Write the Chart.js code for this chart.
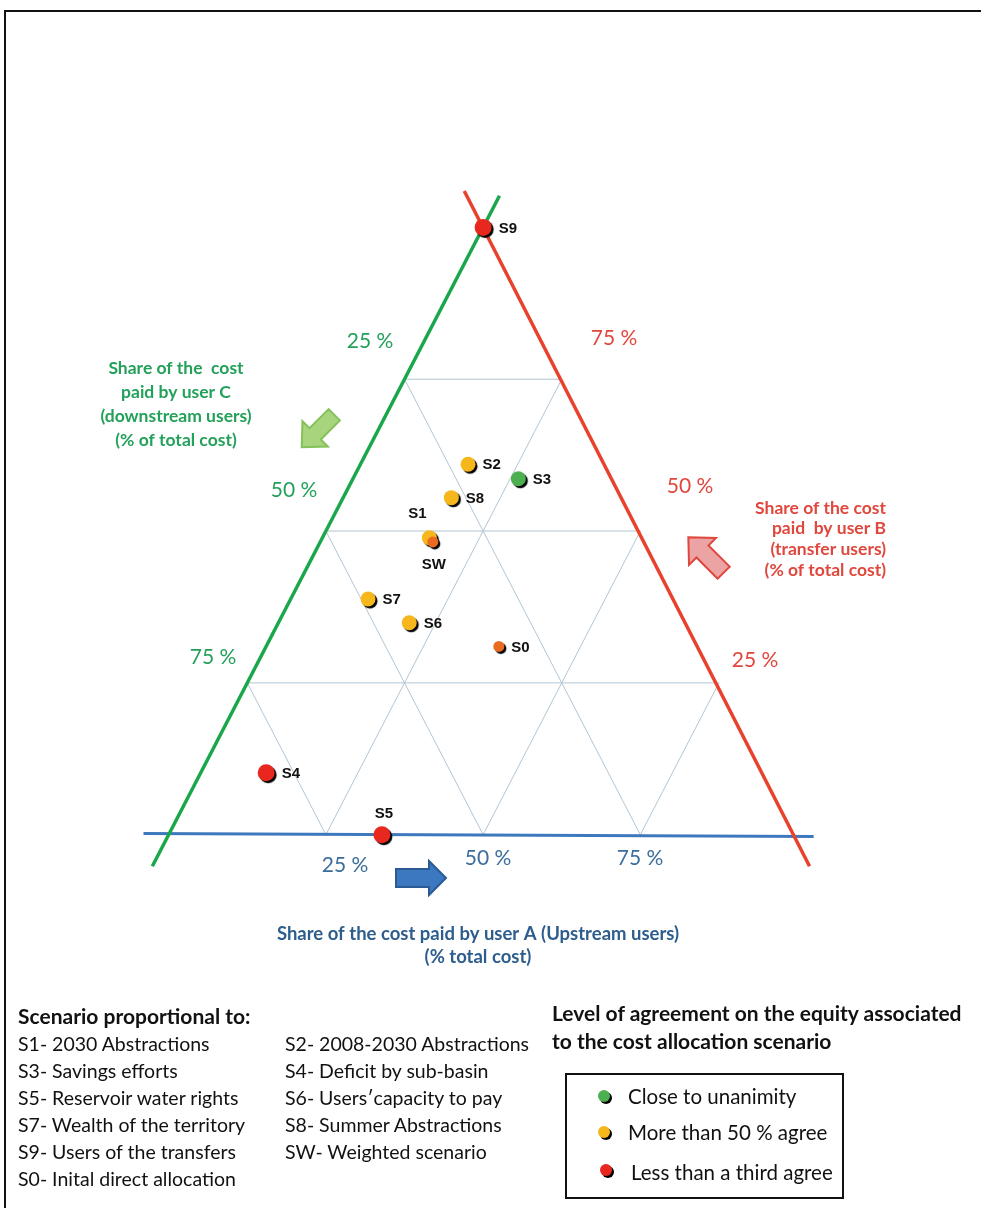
<!DOCTYPE html>
<html>
<head>
<meta charset="utf-8">
<script src="https://cdn.jsdelivr.net/npm/chart.js@4.4.0/dist/chart.umd.min.js"></script>
<style>
body{margin:0;background:#fff;}
#wrap{position:relative;width:981px;height:1208px;overflow:hidden;background:#fff;}
#frame{position:absolute;left:4px;top:10px;width:990px;height:1220px;border-top:2px solid #111;border-left:2px solid #111;}
canvas{position:absolute;left:0;top:0;}
.leg{position:absolute;font-family:Lato,"Open Sans",sans-serif;color:#111;font-size:19.5px;line-height:27px;white-space:nowrap;}
.leg b{font-weight:700;font-size:21px;}
#box{position:absolute;left:565px;top:1073px;width:275px;height:122px;border:2px solid #111;}
.item{position:absolute;font-family:Lato,sans-serif;font-size:20.5px;color:#111;white-space:nowrap;line-height:24px;}
.dot{position:absolute;width:12px;height:12px;border-radius:50%;box-shadow:2px 2px 0 #000;}
</style>
</head>
<body>
<div id="wrap">
  <div id="frame"></div>
  <canvas id="tern" width="981" height="1208"></canvas>

  <div class="leg" style="left:18px;top:1002px;">
    <b>Scenario proportional to:</b><br>
    S1- 2030 Abstractions<br>
    S3- Savings efforts<br>
    S5- Reservoir water rights<br>
    S7- Wealth of the territory<br>
    S9- Users of the transfers<br>
    S0- Inital direct allocation
  </div>
  <div class="leg" style="left:285px;top:1030px;">
    S2- 2008-2030 Abstractions<br>
    S4- Deficit by sub-basin<br>
    S6- Users&#697;capacity to pay<br>
    S8- Summer Abstractions<br>
    SW- Weighted scenario
  </div>
  <div class="leg" style="left:552px;top:999px;">
    <b>Level of agreement on the equity associated<br>to the cost allocation scenario</b>
  </div>
  <div id="box"></div>
  <span class="dot" style="left:598px;top:1090px;background:#4caf50;"></span>
  <span class="item" style="left:628px;top:1084px;">Close to unanimity</span>
  <span class="dot" style="left:598px;top:1126px;background:#f5b71c;"></span>
  <span class="item" style="left:628px;top:1120px;">More than 50 % agree</span>
  <span class="dot" style="left:600px;top:1164px;background:#e8281e;"></span>
  <span class="item" style="left:631px;top:1160px;">Less than a third agree</span>
</div>

<script>
// scenarios and their cost shares (% of total cost)
// A = upstream users, B = transfer users, C = downstream users (C = 100 - A - B)
var scenarios = ["S9", "S2", "S3", "S8", "S1", "SW", "S7", "S6", "S0", "S4", "S5"];
var shareA    = [0,    17.1, 26.3, 17.2, 17.0, 17.9, 12.3, 20.8, 37.0, 10.4, 33.9];
var shareB    = [100,  61.0, 58.6, 55.5, 48.9, 48.2, 38.8, 34.9, 31.0, 10.2, 0];
var agreement = ["low", "majority", "high", "majority", "majority", "none", "majority", "majority", "none", "low", "low"];
var labelSide = ["right", "right", "right", "right", "above", "below", "right", "right", "right", "right", "top"];

// grid steps of the triangle (%)
var gridSteps = [25, 50, 75];
var tickLabels = ["25 %", "50 %", "75 %"];

var agreeColor = {high: "#4caf50", majority: "#f5b71c", low: "#e8281e", none: "#ea6a1f"};
var agreeSize  = {high: 7.5, majority: 7.5, low: 8.5, none: 5.5};

// ternary -> plot coords (base from 0 to 1, apex at height 1)
var tern = function(a, b){
  return {x: a/100 + b/200, y: b/100};
};

var pts = scenarios.map(function(s, i){ return tern(shareA[i], shareB[i]); });

var lineSet = function(p1, p2, color, width){
  return {
    type: "scatter", data: [p1, p2], showLine: true,
    borderColor: color, borderWidth: width, pointRadius: 0, fill: false
  };
};

var datasets = [];
// points first so they sit on top
datasets.push({
  type: "scatter",
  data: pts,
  pointRadius: function(c){ return agreeSize[agreement[c.dataIndex]]; },
  pointBackgroundColor: function(c){ return agreeColor[agreement[c.dataIndex]]; },
  pointBorderWidth: 0,
  showLine: false
});
// outer axes, a bit longer than the triangle edges
datasets.push(lineSet(tern(0, 105.2), tern(0, -5.2), "#1aa64b", 3.5));        // A = 0 (green, user C side)
datasets.push(lineSet(tern(-6, 106), tern(104.5, -5.2), "#e8412c", 3.5));     // C = 0 (red, user B side)
datasets.push(lineSet(tern(-4.1, 0.2), tern(102.7, -0.3), "#3d78bd", 3));    // B = 0 (blue, user A side)
// inner grid
gridSteps.forEach(function(t){
  datasets.push(lineSet(tern(0, t), tern(100 - t, t), "#b2c5d4", 1));        // B const
  datasets.push(lineSet(tern(t, 0), tern(t, 100 - t), "#b2c5d4", 1));        // A const
  datasets.push(lineSet(tern(100 - t, 0), tern(0, 100 - t), "#b2c5d4", 1));  // C const
});

var blockArrow = function(ctx, cx, cy, ang, len, shaftW, headL, headW, fill, stroke){
  ctx.save();
  ctx.translate(cx, cy);
  ctx.rotate(ang);
  var h = len/2;
  ctx.beginPath();
  ctx.moveTo(-h, -shaftW/2);
  ctx.lineTo(h - headL, -shaftW/2);
  ctx.lineTo(h - headL, -headW/2);
  ctx.lineTo(h, 0);
  ctx.lineTo(h - headL, headW/2);
  ctx.lineTo(h - headL, shaftW/2);
  ctx.lineTo(-h, shaftW/2);
  ctx.closePath();
  ctx.fillStyle = fill;
  ctx.fill();
  ctx.lineWidth = 2;
  ctx.strokeStyle = stroke;
  ctx.stroke();
  ctx.restore();
};

var textLines = function(ctx, lines, x, y, step, align, font, color){
  ctx.save();
  ctx.font = font;
  ctx.fillStyle = color;
  ctx.textAlign = align;
  ctx.textBaseline = "middle";
  lines.forEach(function(l, i){ ctx.fillText(l, x, y + i*step); });
  ctx.restore();
};

// shadows under the scenario dots
var shadowPlugin = {
  id: "dotShadow",
  beforeDatasetDraw: function(chart, args){
    if (args.index !== 0) return;
    var ctx = chart.ctx;
    ctx.save();
    ctx.shadowColor = "#000";
    ctx.shadowOffsetX = 2;
    ctx.shadowOffsetY = 2;
    ctx.shadowBlur = 1;
  },
  afterDatasetDraw: function(chart, args){
    if (args.index !== 0) return;
    chart.ctx.restore();
  }
};

var annotations = {
  id: "annots",
  afterDatasetsDraw: function(chart){
    var ctx = chart.ctx;
    var xs = chart.scales.x, ys = chart.scales.y;
    // scenario labels
    ctx.save();
    ctx.font = "bold 15px 'Liberation Sans', Arial, sans-serif";
    ctx.fillStyle = "#111";
    ctx.textBaseline = "middle";
    pts.forEach(function(p, i){
      var px = xs.getPixelForValue(p.x), py = ys.getPixelForValue(p.y);
      var r = agreeSize[agreement[i]];
      var side = labelSide[i];
      if (side === "right"){ ctx.textAlign = "left"; ctx.fillText(scenarios[i], px + r + 7, py + 1); }
      else if (side === "above"){ ctx.textAlign = "center"; ctx.fillText(scenarios[i], px - 12, py - 24); }
      else if (side === "below"){ ctx.textAlign = "center"; ctx.fillText(scenarios[i], px + 1, py + 23); }
      else { ctx.textAlign = "center"; ctx.fillText(scenarios[i], px + 2, py - 21); }
    });
    ctx.restore();

    var pctFont = "21px Lato, 'Open Sans', sans-serif";
    // green (user C) tick labels on left edge
    var gPos = [[370, 341], [294, 490], [213, 657]];
    gPos.forEach(function(p, i){ textLines(ctx, [tickLabels[i]], p[0], p[1], 0, "center", pctFont, "#23a05a"); });
    // red (user B) tick labels on right edge
    var rPos = [[755, 660], [690, 486], [614, 338]];
    rPos.forEach(function(p, i){ textLines(ctx, [tickLabels[i]], p[0], p[1], 0, "center", pctFont, "#e0473d"); });
    // blue (user A) tick labels under the base
    var bPos = [[345, 865], [488, 858], [640, 858]];
    bPos.forEach(function(p, i){ textLines(ctx, [tickLabels[i]], p[0], p[1], 0, "center", pctFont, "#3b6e9c"); });

    var tFont = "bold 17.5px Lato, 'Open Sans', sans-serif";
    textLines(ctx, ["Share of the  cost", "paid by user C", "(downstream users)", "(% of total cost)"],
      176, 368, 24, "center", tFont, "#23a05a");
    textLines(ctx, ["Share of the cost", "paid  by user B", "(transfer users)", "(% of total cost)"],
      886, 508, 20.7, "right", tFont, "#e0473d");
    textLines(ctx, ["Share of the cost paid by user A (Upstream users)", "(% total cost)"],
      478, 934, 23, "center", "bold 18.5px Lato, 'Open Sans', sans-serif", "#2d5d8c");

    blockArrow(ctx, 318, 431, 3*Math.PI/4, 46, 16, 19, 36, "#a8d47e", "#84c158");
    blockArrow(ctx, 706, 555, -3*Math.PI/4, 50, 17, 20, 38, "#eba3a3", "#e0473d");
    blockArrow(ctx, 421, 878, 0, 50, 18, 17, 34, "#3c78c0", "#2c5a94");
  }
};

var ctx = document.getElementById("tern").getContext("2d");
var chart = new Chart(ctx, {
  type: "scatter",
  data: {datasets: datasets},
  options: {
    responsive: false,
    animation: false,
    devicePixelRatio: 1,
    layout: {padding: 0},
    plugins: {legend: {display: false}, tooltip: {enabled: false}},
    scales: {
      // 640 px per unit horizontally (x=0 at 163px), 616 px per unit vertically (y=0 at 838px)
      x: {type: "linear", display: false, min: -163/640, max: (981 - 163)/640},
      y: {type: "linear", display: false, min: -(1208 - 838)/616, max: 838/616}
    }
  },
  plugins: [shadowPlugin, annotations]
});
</script>
</body>
</html>
